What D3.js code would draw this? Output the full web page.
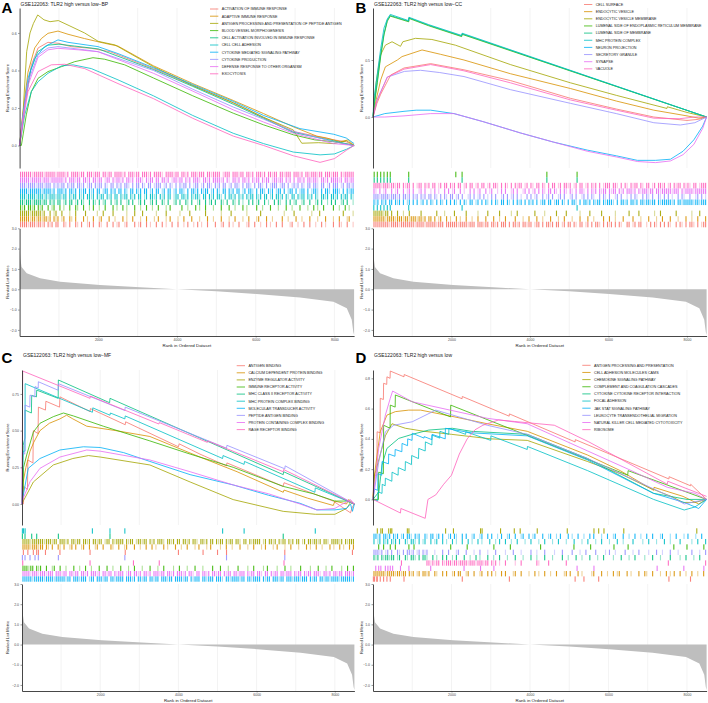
<!DOCTYPE html>
<html>
<head>
<meta charset="utf-8">
<script src="https://cdn.jsdelivr.net/npm/d3@7"></script>
<style>
body { margin: 0; background: #fff; }
svg { display: block; font-family: "Liberation Sans", Arial, sans-serif; }
</style>
</head>
<body>
<svg id="chart" width="708" height="703"></svg>
<script>
// ggplot hue palette for 10 gene sets
let colors = ["#F8766D", "#D89000", "#A3A500", "#39B600", "#00BF7D", "#00BFC4", "#00B0F6", "#9590FF", "#E76BF3", "#FF62BC"]

let rankMax = 8500
let xTicks = [2000, 4000, 6000, 8000]
let xGrid = [1000, 2000, 3000, 4000, 5000, 6000, 7000, 8000]
let metricTicks = [-2, -1, 0, 1, 2, 3]

// ranked list metric (same dataset in every panel)
let metricRank = [0, 20, 50, 180, 520, 1030, 2040, 3060, 4000, 5000, 6020, 7125, 7975, 8315, 8440, 8480, 8500]
let metricValue = [2.1, 1.5, 1.1, 0.79, 0.54, 0.37, 0.21, 0.1, 0, -0.1, -0.23, -0.41, -0.61, -0.94, -1.5, -2.1, -2.25]

// ---------- A: BP ----------
let namesA = ["ACTIVATION OF IMMUNE RESPONSE", "ADAPTIVE IMMUNE RESPONSE", "ANTIGEN PROCESSING AND PRESENTATION OF PEPTIDE ANTIGEN",
    "BLOOD VESSEL MORPHOGENESIS", "CELL ACTIVATION INVOLVED IN IMMUNE RESPONSE", "CELL CELL ADHESION",
    "CYTOKINE MEDIATED SIGNALING PATHWAY", "CYTOKINE PRODUCTION", "DEFENSE RESPONSE TO OTHER ORGANISM", "EXOCYTOSIS"]
let esA = [
    [[0,0],[130,0.22],[300,0.43],[470,0.52],[720,0.55],[980,0.545],[1310,0.527],[1820,0.518],[2300,0.5],[3400,0.41],[4400,0.32],[5430,0.227],[6200,0.15],[6950,0.075],[7980,0.03],[8300,0.02],[8500,0]],
    [[0,0],[100,0.2],[213,0.39],[383,0.52],[552,0.57],[722,0.598],[976,0.61],[1230,0.593],[1650,0.57],[2160,0.545],[2500,0.53],[3400,0.425],[4400,0.33],[5430,0.24],[6200,0.17],[6950,0.1],[7550,0.05],[7800,0.04],[8150,0.02],[8350,0.03],[8500,0]],
    [[0,0],[95,0.2],[180,0.5],[265,0.6],[350,0.65],[460,0.696],[620,0.67],[773,0.66],[985,0.666],[1280,0.637],[1650,0.6],[2000,0.555],[2425,0.536],[3400,0.42],[4400,0.32],[5430,0.228],[6200,0.15],[6955,0.083],[7170,0.012],[7600,0.015],[7980,0.01],[8310,0.025],[8500,0]],
    [[0,0],[45,0.0],[170,0.163],[298,0.287],[468,0.358],[722,0.394],[1060,0.42],[1400,0.447],[1865,0.468],[2160,0.46],[2670,0.43],[3400,0.36],[4400,0.265],[5430,0.172],[6200,0.11],[6955,0.057],[7500,0.03],[8000,0.02],[8500,0]],
    [[0,0],[120,0.2],[280,0.4],[460,0.5],[720,0.535],[1000,0.54],[1400,0.53],[2000,0.515],[3400,0.405],[4400,0.315],[5430,0.22],[6200,0.145],[6950,0.07],[7980,0.025],[8500,0]],
    [[0,0],[130,0.163],[298,0.287],[468,0.34],[722,0.385],[1060,0.424],[1360,0.43],[1822,0.41],[2500,0.35],[3400,0.265],[4400,0.16],[5430,0.065],[6200,0.01],[6955,-0.035],[7635,-0.05],[8000,-0.045],[8310,-0.02],[8500,0]],
    [[0,0],[86,0.16],[213,0.358],[383,0.465],[637,0.527],[976,0.563],[1230,0.55],[1992,0.527],[2500,0.49],[3400,0.415],[4400,0.325],[5430,0.235],[6200,0.16],[7125,0.09],[7980,0.06],[8300,0.04],[8500,0.01]],
    [[0,0],[100,0.18],[213,0.34],[468,0.483],[722,0.52],[976,0.527],[1654,0.51],[2000,0.5],[3400,0.4],[4400,0.3],[5430,0.205],[6200,0.14],[6955,0.075],[7980,0.02],[8500,0]],
    [[0,0],[100,0.17],[230,0.33],[468,0.47],[722,0.51],[976,0.518],[1500,0.51],[1992,0.5],[3400,0.385],[4400,0.29],[5430,0.19],[6200,0.125],[6955,0.065],[7980,0.01],[8500,0]],
    [[0,0],[86,0.127],[213,0.287],[468,0.394],[806,0.43],[1145,0.433],[1654,0.41],[2500,0.33],[3400,0.25],[4400,0.145],[5430,0.05],[6200,0.0],[6955,-0.055],[7635,-0.09],[8000,-0.07],[8310,-0.025],[8500,0]]
]
// hits: strings are 50-rank bins ('|' hit, ':' faint hit, '.' none), arrays are ranks
let hitsA = [
    "||||:|||:| |:|.|:|.|| ..|:.|..|: .|..:|.|.. |:..|..|.: |..:|...|. :|..|.:..| ..|.:..|.. |..:.|..:. |.:..|...| ..:|..|.:. .|...:|..| ..:..|.:.. |..|...:|. .:..|..|.. :..|.:...| ..|:..|..:",
    "|||||:||:| |:||:|.|:| .:|..|:.|. ..|.:..|.. :|...|..:. ..|.:..|.. .:..|...:. |...:.|... :..|...|.. .:...|..:. ..|...:..| ...:..|... :|...|..:. ...|..:... |..:...|.. .:...|...: ..|...:|..",
    "|||||:|||| |:|..|.:|. .|...:..|. ...|.....: ..|....|.. ....:...|. ..|......: ....|..... .:....|... ....|..... ..:....|.. .....:.... ..|....... ....:....| ........:. ..|....... ....|....:",
    "|:|.||:|.| :|..|.:|.. |.:..|..|: ..|..:.|.. :..|...|.: ..|.:...|. .:..|..:.. |...:.|... ..|..:...| .:..|...:. ..|...|..: ...|.:.... |..:...|.. .:...|..:. ..|...:..| .:..|....| ..:..|.:..",
    "||:|||:||| |:||.|:|.| |.:|.||.:| .|:..|.|:. |.:|..|.:| .|..:|.|.. :|.|..:|.| ..|:.|..:| .|..|:.|.. :|..|.:|.| ..|:.|..|: .|.:..|.|. :|..|.:..| .|:..|.|.: |..:|..|.. :|.|..:.|. |..:|.|..:",
    "|||:||||:| ||:|:|||:| |:||.|:||. |:|.||:|.| :||.|:|.|| .|:||.|:|. ||.:|.||:| .|:|.||.:| |.||:|.|:| |:.||.|:|. ||:.|.||:| .|:|.|:||. |:|.||.:|. ||:|.|:.|| .|:||.|:|. |:.||:|.|| :|.|:||.|:",
    "||||:||||| |:||||:|.| ||:|.||:|. |:||.|:|.| |.:||.|:|. ||.|:.||.| :|.||.:|.| |.:|.||.:| .||:.|.||: |.|:||.:|. |:.||.|:|. ||.:|.||:. |.||:.|:|. :||.|.:||. |.:||.|.:| |:.|.||:.| ||:.|.|:||",
    "|||:||||:| ||:|||.|:| :||.|:||.| |:|.:||.|: ||.|:.||.| :|.||:.|.| |.|:.||.:| ||.:|.|:.| .|:||.|.:| |.:|.||:.| :|.||.:|.| |:.|.||:.| .||:.|.:|| |.:||.|.:| :|.|:.||.| |:.||.:|.| ||.:|.||:|",
    "|||||:|||| |:|||:|||| ||:|.|||:| |.||:|.||: ||.:||.|:| |:|.||:|.| ||:.|:||.| |.||:|.:|| :||.|:|.|| |:.||:|.|| ||:|.|:.|| :|.||:|.|: ||.|:||.:| |:||.|:|.| .||:|.||:| |:.||:|.|| ||:|.||:||",
    "||||||:||| ||:|||||:| |||:|.|||| :||.|||:|| |.||:||.|| ||:|.|||:| |.|||:|.|| ||:.||||:| |.||:|.||| :|||.||:|| ||.:|||.|| |:||.||:|. |||:|.||:| |.||:|||.| ||:|.||:|| |:||.|||:| ||.|:|||||"
]
let rowsA = [9, 8, 7, 6, 5, 4, 3, 2, 1, 0]

// ---------- B: CC ----------
let namesB = ["CELL SURFACE", "ENDOCYTIC VESICLE", "ENDOCYTIC VESICLE MEMBRANE", "LUMENAL SIDE OF ENDOPLASMIC RETICULUM MEMBRANE",
    "LUMENAL SIDE OF MEMBRANE", "MHC PROTEIN COMPLEX", "NEURON PROJECTION", "SECRETORY GRANULE", "SYNAPSE", "VACUOLE"]
let esB = [
    [[0,0],[100,0.12],[196,0.2],[450,0.368],[790,0.43],[1470,0.468],[2318,0.414],[3500,0.32],[5030,0.164],[6200,0.07],[7155,0.0],[8000,-0.03],[8300,-0.02],[8500,0]],
    [[0,0],[80,0.15],[196,0.325],[315,0.44],[620,0.5],[740,0.53],[1250,0.588],[1720,0.55],[2318,0.5],[3500,0.38],[5030,0.25],[6200,0.14],[7155,0.06],[8000,0.01],[8300,-0.01],[8500,0]],
    [[0,0],[80,0.3],[186,0.54],[315,0.63],[485,0.66],[700,0.62],[760,0.66],[1080,0.69],[1500,0.68],[2100,0.63],[3500,0.46],[5030,0.3],[6200,0.19],[7490,0.075],[7500,0.09],[8000,0.04],[8500,0]],
    [[0,0],[30,0.1],[110,0.3],[196,0.53],[280,0.72],[365,0.84],[440,0.885],[910,0.835],[915,0.865],[1420,0.8],[2260,0.705],[2270,0.725],[8500,0]],
    [[0,0],[30,0.12],[110,0.32],[196,0.55],[280,0.73],[365,0.85],[440,0.89],[910,0.84],[915,0.87],[1420,0.805],[2260,0.71],[2270,0.73],[8500,0]],
    [[0,0],[20,0.15],[110,0.38],[196,0.6],[280,0.78],[365,0.86],[440,0.9],[910,0.845],[915,0.875],[1420,0.81],[2260,0.715],[2270,0.735],[8500,0]],
    [[0,0],[300,0.03],[790,0.05],[1100,0.06],[1470,0.06],[2065,0.03],[2800,-0.04],[3760,-0.14],[4600,-0.22],[5460,-0.29],[6200,-0.34],[6735,-0.38],[7200,-0.38],[7580,-0.37],[7900,-0.3],[8175,-0.2],[8400,-0.08],[8500,0]],
    [[0,0],[100,0.15],[365,0.35],[800,0.4],[1210,0.41],[1700,0.39],[2318,0.355],[3500,0.24],[5030,0.12],[6200,0.03],[7155,-0.05],[7830,-0.07],[8200,-0.05],[8500,0]],
    [[0,0],[300,0.0],[790,0.01],[1470,0.03],[2065,0.03],[2800,-0.04],[3760,-0.14],[4600,-0.22],[5460,-0.3],[6200,-0.35],[6735,-0.39],[7200,-0.4],[7580,-0.385],[7900,-0.33],[8175,-0.24],[8400,-0.1],[8500,0]],
    [[0,0],[100,0.14],[365,0.35],[790,0.42],[1470,0.46],[2318,0.405],[3500,0.3],[5030,0.15],[6200,0.06],[7155,-0.01],[7800,-0.015],[8200,0],[8500,0]]
]
let hitsB = [
    "||||||||:| |||:|||||| |:||||:||| ||:|||.||| |||:||||:| ||.|||:||. ||:|.|||.| .||:|.||:| |.:||.|.|| :|.||.:|.| |.|:.||.:| .|.||:.|.| :|.|.|:..| |.:|.||..: .|.|:.|.|. |:..|.|:.| .||:.|.:||",
    "||||||:||| |:|||:||:| ||:||:|.|| .|.:|..|.: ..|.:..|.. :..|...|.. .|..:..|.. ..|...:..| ...|..:... |...:..|.. .:...|...| ..:....|.. |..:...|.. ..|...:... |...:..|.. .|...:...| ..:..|...|",
    "|||||:||.| ..|..:..|. ....|..... ..|...:... .|.....|.. ...:....|. ....|..... :..|...... ..|....:.. ...|....|. .....:.... |.....|... ...:...... |....|.... ...:..|... ....|..... ..:...|...",
    [30, 110, 196, 280, 365, 440, 910, 2110, 2270, 4430, 5200],
    [30, 110, 196, 280, 365, 440, 910, 2270, 4430, 5200],
    [20, 110, 196, 280, 365, 440, 910, 2270, 5200],
    "|:|.|:|.|| .|:|.|.:|. |.|.:|.|.| :.|.|:.|.| .|:.|.|:.| |.:|.|.|:. |.|:.||.|: .|.|:|.|.| :|.|.:||.| |.:||.|:.| .||:.|.||: |.|:||.|:| ||:.|.||:| .||:|.||:| |:||.|:||| ||:|.||:|| |||:||:|||",
    "|||:||||:| ||:|.||:|. |:|.|:|.|| .|:.|.|:.| |.:|.|..:| .|.:|.|.:. |.|..:|.|. :|.|.:..|. |.:|..|.:| .|..:|.|.. :|.|..:|.| .|:..|.|:. |..:|.|..: .|.|:..|.| :.|..|:.|. |.:..|.|:. .|..:|.|.:",
    "|:.|.:|..| .:|..|.:|. |..:|.|..: .|.:..|.|. :|..|.:..| .|.:|..|.: |..:.|.|.. :|.|..:|.| .:|.|.|:.| |.|:.|.|:. |:.|.||:.| .|:|.|:||. |:||.|:|.| ||:|.|:||| :||.||:||| ||:|||.|:| |||:||||||",
    "||||:|||:| |:||.|:||. |.:||.|:|. ||.:|.||.| :|.||.:|.| |.:|.||.:| .||:.|.|:. |.|:||.:|. |:.||.|:.| .||.:|.||: |.:|.||.:| .|:|.|.:|| |.||:.|.|: .|:||.|:.| |.:|.||:|. :|.|:||.|: |:.||.:|||"
]
let rowsB = [3, 4, 9, 8, 7, 6, 5, 2, 1, 0]

// ---------- C: MF ----------
let namesC = ["ANTIGEN BINDING", "CALCIUM DEPENDENT PROTEIN BINDING", "ENZYME REGULATOR ACTIVITY", "IMMUNE RECEPTOR ACTIVITY",
    "MHC CLASS II RECEPTOR ACTIVITY", "MHC PROTEIN COMPLEX BINDING", "MOLECULAR TRANSDUCER ACTIVITY", "PEPTIDE ANTIGEN BINDING",
    "PROTEIN CONTAINING COMPLEX BINDING", "RAGE RECEPTOR BINDING"]
let esC = [
    [[0,0],[35,0.0],[40,0.12],[140,0.1],[150,0.3],[280,0.28],[290,0.5],[410,0.48],[420,0.66],[600,0.64],[610,0.7],[960,0.66],[970,0.73],[1740,0.63],[1750,0.65],[2640,0.54],[2650,0.56],[4000,0.39],[4020,0.41],[4550,0.34],[5230,0.26],[5240,0.28],[6680,0.12],[6700,0.145],[7960,0.02],[8400,-0.06],[8450,-0.02],[8500,0]],
    [[0,0],[30,0.15],[100,0.25],[205,0.36],[300,0.42],[460,0.5],[700,0.55],[970,0.58],[1140,0.605],[1300,0.58],[1655,0.53],[2400,0.5],[3270,0.46],[4550,0.32],[5500,0.22],[6680,0.08],[6700,0.095],[7300,0.04],[7960,-0.01],[8000,0.02],[8300,0.0],[8350,0.03],[8500,0]],
    [[0,0],[33,0.02],[290,0.15],[800,0.266],[1300,0.31],[1700,0.33],[2000,0.32],[3270,0.266],[4300,0.15],[5400,0.03],[6680,-0.05],[7500,-0.07],[8000,-0.07],[8300,-0.03],[8400,0.01],[8500,0]],
    [[0,0],[30,0.1],[40,0.25],[120,0.334],[290,0.49],[460,0.55],[800,0.595],[1060,0.62],[1315,0.6],[2080,0.53],[3270,0.43],[4300,0.34],[5400,0.25],[6680,0.12],[7450,0.07],[8000,0.02],[8300,0.02],[8500,0]],
    [[0,0],[20,0.3],[30,0.4],[75,0.45],[77,0.64],[240,0.62],[248,0.74],[370,0.73],[376,0.776],[925,0.72],[930,0.845],[2240,0.69],[2250,0.72],[6680,0.2],[6690,0.22],[8500,0]],
    [[0,0],[30,0.36],[77,0.36],[80,0.82],[1800,0.625],[1810,0.655],[2250,0.605],[2260,0.62],[2630,0.58],[2640,0.6],[5130,0.31],[5140,0.33],[5680,0.27],[5690,0.29],[7490,0.08],[7500,0.11],[8500,0]],
    [[0,0],[33,0.06],[160,0.243],[460,0.31],[970,0.368],[1570,0.39],[2000,0.385],[2600,0.35],[3270,0.29],[4300,0.2],[5400,0.13],[6300,0.06],[7110,0.005],[7540,-0.04],[8000,-0.04],[8300,-0.03],[8400,0.0],[8450,-0.05],[8500,0]],
    [[0,0],[10,0.35],[70,0.34],[77,0.674],[200,0.66],[205,0.742],[330,0.73],[333,0.8],[415,0.79],[418,0.833],[925,0.775],[930,0.82],[2630,0.637],[2640,0.66],[5230,0.38],[5240,0.4],[6720,0.24],[6730,0.26],[8500,0]],
    [[0,0],[33,0.04],[205,0.152],[460,0.243],[970,0.32],[1655,0.368],[2000,0.36],[3270,0.3],[4300,0.22],[5400,0.13],[6300,0.07],[7110,0.0],[7540,-0.04],[8000,-0.03],[8200,0.0],[8400,0.03],[8500,0]],
    [[0,0],[18,0.906],[1740,0.72],[1750,0.735],[3500,0.545],[3510,0.555],[4740,0.42],[4750,0.43],[6680,0.22],[6690,0.235],[8500,0]]
]
let hitsC = [
    [35, 150, 290, 375, 420, 600, 970, 1740, 2640, 4000, 4630, 5000, 5230, 6720, 8450],
    "||||:|||:| |.|:.|..|: .|..:|.|.. :|..|..:|. .|...|:..| ..:|...|.. :..|..|.:. ..|.:...|. .:..|...:. |...:.|... .:..|..:.. .|...:..|. ..:.|...:. |...:..|.. .:...|.:.. |..:...|.: ..|.:..|.|",
    "||||:||||| |:|||:||.| ||:|.||:|| .||:|.||:| |.:||.|:|| ||.|:||.:| |:||.|:|.| ||:.||:|.| |.||:|.||: .||:|.||.| :||.|:||.| |:.||.|:|| ||.:|.||:| .|:||.|:|. ||.:|.||:| |:|.||:.|| ||:|.|:|||",
    "|||:||.|:| ..|..:|..| ..:...|..: ..|..:...| ...|..:... |...:..|.. .:...|...: ..|....:.. |...:...|. ..:....|.. .|...:.... |....:..|. ...:.|.... :...|..:.. ..|....:.. .|...:..|. ...:..|..|",
    [10, 77, 248, 376, 930, 2250, 6680],
    [10, 40, 80, 1800, 2250, 2630, 5130, 5680, 7500],
    "|||||:|||| |:||||:||| ||:||.|||: |||.:||.|| |:||.||:|| ||.|||:|.| |:||.||:|| .|||:||.|| ||:||.|:|| |.||:|||.| ||:.||:||| |:||.||:|| ||.|:||.|| |:||.|||:| ||:|||.|:| |.||:||:|| ||:|||||:|",
    [10, 77, 205, 333, 418, 930, 2630, 5230, 6720],
    "||||:|||:| ||:|||.||| :||.||:||. ||:|.|||:| .||:||.|:| ||.:||.||: |.||:|.||| :||.||:|.| ||:|.||:.| |.||:|.||: ||.|:||.|| :|||.|:||. ||:.||.|:| |.||:|||.| :||.|:||.| ||:.||:|.| |:||.|||:|",
    [18, 1740, 2850, 3510, 6700]
]
let rowsC = [5, 4, 2, 1, 0, 7, 9, 3, 8, 6]

// ---------- D: KEGG ----------
let namesD = ["ANTIGEN PROCESSING AND PRESENTATION", "CELL ADHESION MOLECULES CAMS", "CHEMOKINE SIGNALING PATHWAY",
    "COMPLEMENT AND COAGULATION CASCADES", "CYTOKINE CYTOKINE RECEPTOR INTERACTION", "FOCAL ADHESION", "JAK STAT SIGNALING PATHWAY",
    "LEUKOCYTE TRANSENDOTHELIAL MIGRATION", "NATURAL KILLER CELL MEDIATED CYTOTOXICITY", "RIBOSOME"]
let esD = [
    [[0,0],[20,0.16],[100,0.16],[105,0.447],[180,0.44],[185,0.668],[265,0.66],[270,0.767],[350,0.76],[355,0.81],[435,0.8],[440,0.848],[790,0.81],[795,0.825],[2270,0.665],[2275,0.68],[3470,0.55],[3475,0.565],[5150,0.38],[5155,0.395],[7540,0.135],[7545,0.15],[8090,0.09],[8095,0.1],[8500,0]],
    [[0,0],[30,0.15],[185,0.447],[355,0.557],[570,0.58],[910,0.59],[1215,0.59],[2065,0.546],[2910,0.5],[3930,0.45],[5470,0.293],[6300,0.19],[7150,0.06],[7160,0.08],[7900,0.02],[8300,-0.03],[8500,0]],
    [[0,0],[40,0.16],[315,0.42],[485,0.5],[825,0.47],[1300,0.45],[2000,0.43],[3000,0.4],[3930,0.39],[5470,0.25],[6300,0.17],[6990,0.083],[7300,0.05],[7600,0.02],[7900,-0.02],[8200,-0.02],[8500,0]],
    [[0,0],[140,0.0],[145,0.18],[265,0.17],[270,0.49],[435,0.47],[440,0.623],[565,0.61],[570,0.69],[1975,0.545],[1980,0.623],[6490,0.16],[6500,0.19],[8500,0]],
    [[0,0],[150,0.05],[230,0.227],[355,0.337],[655,0.403],[1000,0.43],[1420,0.458],[2020,0.47],[2500,0.45],[3930,0.43],[5470,0.27],[7150,0.04],[8000,0.0],[8500,0]],
    [[0,0],[120,-0.01],[125,0.05],[230,0.04],[235,0.1],[310,0.09],[315,0.14],[480,0.12],[485,0.18],[640,0.16],[645,0.21],[820,0.19],[825,0.25],[980,0.23],[985,0.29],[1160,0.27],[1165,0.337],[1330,0.32],[1335,0.38],[1500,0.36],[1505,0.425],[1700,0.405],[1705,0.45],[1930,0.43],[1935,0.47],[2360,0.43],[2365,0.447],[3000,0.39],[3005,0.42],[3930,0.33],[3935,0.35],[5470,0.19],[7150,0.0],[7930,-0.07],[8200,-0.05],[8500,0]],
    [[0,0],[30,0.07],[120,0.06],[125,0.17],[225,0.16],[230,0.25],[395,0.235],[400,0.3],[560,0.285],[565,0.33],[735,0.315],[740,0.37],[880,0.355],[885,0.4],[995,0.39],[1000,0.437],[1300,0.405],[1305,0.415],[1500,0.395],[1505,0.43],[1840,0.4],[1845,0.47],[2500,0.44],[3930,0.42],[5470,0.26],[7150,0.04],[7930,-0.02],[8300,-0.06],[8500,0]],
    [[0,0],[145,0.245],[315,0.447],[530,0.49],[1000,0.513],[1600,0.59],[2910,0.49],[3930,0.43],[5470,0.27],[7590,0.017],[7930,-0.03],[8300,-0.01],[8500,0]],
    [[0,0],[145,0.337],[315,0.557],[440,0.668],[500,0.716],[1000,0.645],[2910,0.536],[3930,0.5],[5470,0.32],[6500,0.2],[7500,0.08],[8200,0.04],[8500,0]],
    [[0,0],[700,-0.09],[710,-0.06],[1330,-0.125],[1400,0.0],[1600,0.03],[1800,0.1],[2000,0.16],[2200,0.3],[2400,0.4],[2600,0.46],[2800,0.49],[3200,0.525],[3600,0.515],[4620,0.49],[5500,0.38],[6500,0.24],[7500,0.1],[7510,0.12],[8500,0.02]]
]
let hitsD = [
    [10, 40, 100, 105, 185, 270, 355, 440, 790, 2275, 3475, 5150, 5375, 5750, 7540, 8090],
    "||||||:||| |:||:||.|: |.:|.||:|. .|:..|.|.. :|.||..:|. .|..:|..|. |.:..|.|.. .:|..|...: ..|.:..|.. :..|...:|. |...|.:... .:|...|..: ..|.:|...| .:...|..|: ..|...:..| .:.|..|..: ..|..:..|.",
    [110, 200, 240, 400, 450, 480, 875, 915, 1850, 2050, 2740, 2780, 3250, 3600, 3750, 4185, 4950, 5630, 5750, 5885, 6390, 8250],
    [145, 270, 440, 570, 915, 1045, 1980, 2400, 3080, 3500, 4270, 5120, 5545, 6140, 6500, 7665, 8000, 8430],
    "|:|.|:||:| |.:|..|:.| |:.|.||:.. |.:..|.|.. :.|...|..: ..|.:...|. .:..|...:. ..|...:... |..:...|.. .:....|..: ...|..:... |...:..|.. ..:...|... :..|....:. ..|...:... .|....:..| ...:..|...",
    "|.:|.|:|.| :|.|..|:.| |:.|.:|..| .:|..|.:.. |.:..|..|. :..|.:...| ..:.|..|.. :..|...:.. |...:..|.. .:..|...:. ..|...:..| ...:..|... :...|..:.. ..|....:.. |...:...|. .:....|... ..:..|...|",
    "||:|.||:|. |:|.:|.||: .|:|..|:.| |.:|.|..:| .|:..|.|.. :|..:|..|. |..:.|..:| ..|..:|..| .:|...|..: |..:.|...| .:..|..:.. |.|...:..| ..:|...|.. :..|..:..| ..|...:|.. .:..|...:. |...:..|..",
    "|||:|.:|.| ..|:.|.||: |.:|.|:|.. .:...|..|. ..:|...|.. .:..|...:. ..|....:.. .|...:.... |..:...|.. ..:...|... .|...:..|. ...|....:. |..:....|. ..:..|.... :...|..:.. .|...:.... ..|...:..|",
    [70, 145, 200, 315, 380, 440, 500, 700, 915, 1470, 2320, 2740, 3080, 5200, 5630, 7240, 7920, 8430],
    ".......... ....|..... .......||: |:||.|:||| :||:||||:| ||:|||:||. |:|.:..|.. ..:..|.... ...|:....| ........|. .......... .......... .......... .......... .......... |......... .........|"
]
let rowsD = [2, 6, 5, 3, 7, 4, 9, 8, 1, 0]

// ---------- layout of the four panels ----------
let panels = [
    { letter: "A", title: "GSE122063: TLR2 high versus low\u2212BP", names: namesA, es: esA, hits: hitsA, rows: rowsA,
      esDomain: [-0.12, 0.733], esTicks: [0, 0.2, 0.4, 0.6], esFmt: ".1f",
      ox: 0, x0: 19.6, x1: 354.1, esTop: 8, esBot: 168, rugTop: 171.7, rugBot: 227.3, rkTop: 228.3, rkBot: 336,
      titleY: 6, letterY: 12.7, legX: 210, legY: 9, legDy: 7.2 },
    { letter: "B", title: "GSE122063: TLR2 high versus low\u2212CC", names: namesB, es: esB, hits: hitsB, rows: rowsB,
      esDomain: [-0.447, 0.956], esTicks: [0, 0.5], esFmt: ".1f",
      ox: 354, x0: 373, x1: 706.6, esTop: 8, esBot: 168, rugTop: 171.7, rugBot: 227.3, rkTop: 228.3, rkBot: 336,
      titleY: 6, letterY: 12.7, legX: 584, legY: 4.5, legDy: 7.15 },
    { letter: "C", title: "GSE122063: TLR2 high versus low\u2212MF", names: namesC, es: esC, hits: hitsC, rows: rowsC,
      esDomain: [-0.143, 0.913], esTicks: [0, 0.25, 0.5, 0.75], esFmt: ".2f",
      ox: 0, x0: 22, x1: 354.4, esTop: 370, esBot: 525, rugTop: 528.3, rugBot: 581.7, rkTop: 584, rkBot: 691,
      titleY: 356.8, letterY: 362.7, legX: 236.7, legY: 365.7, legDy: 7.1 },
    { letter: "D", title: "GSE122063: TLR2 high versus low", names: namesD, es: esD, hits: hitsD, rows: rowsD,
      esDomain: [-0.169, 0.855], esTicks: [0, 0.2, 0.4, 0.6, 0.8], esFmt: ".1f",
      ox: 354, x0: 373, x1: 706.6, esTop: 370, esBot: 525, rugTop: 528.3, rugBot: 581.7, rkTop: 584, rkBot: 691,
      titleY: 356.8, letterY: 362.7, legX: 582.3, legY: 365.3, legDy: 7.15 }
]

let svg = d3.select("#chart")
let metric = d3.zip(metricRank, metricValue)

let toTicks = (h) => {
    if (Array.isArray(h)) return h.map(r => ({ rank: r, a: 0.9 }))
    let out = []
    h.replace(/ /g, "").split("").forEach((c, i) => {
        if (c === "|") out.push({ rank: i * 50 + 25, a: 0.9 })
        else if (c === ":") out.push({ rank: i * 50 + 25, a: 0.4 })
    })
    return out
}

let styleAxis = (g) => {
    g.attr("font-size", 3.5).attr("font-family", null)
    g.selectAll("text").attr("fill", "#4d4d4d")
    g.selectAll("line").attr("stroke", "#333").attr("stroke-width", 0.5)
    g.select(".domain").attr("stroke", "#333").attr("stroke-width", 0.9)
}

let drawPanel = (p) => {
    let g = svg.append("g")
    let x = d3.scaleLinear().domain([0, rankMax]).range([p.x0, p.x1])
    let y = d3.scaleLinear().domain(p.esDomain).range([p.esBot, p.esTop])
    let yr = d3.scaleLinear().domain([-2.3, 3]).range([p.rkBot, p.rkTop])

    // vertical grid lines
    let grid = (top, bot) => g.append("g").selectAll("line").data(xGrid).join("line")
        .attr("x1", d => x(d)).attr("x2", d => x(d))
        .attr("y1", top).attr("y2", bot)
        .attr("stroke", "#ebebeb").attr("stroke-width", 0.6)
    grid(p.esTop, p.esBot)
    grid(p.rkTop, p.rkBot)

    // running enrichment score
    let line = d3.line().x(d => x(d[0])).y(d => y(d[1]))
    p.es.forEach((c, i) => {
        g.append("path").attr("d", line(c))
            .attr("fill", "none").attr("stroke", colors[i]).attr("stroke-width", 0.8)
            .attr("stroke-linejoin", "round")
    })
    g.append("g").attr("transform", `translate(${p.x0},0)`)
        .call(d3.axisLeft(y).tickValues(p.esTicks).tickFormat(d3.format(p.esFmt)).tickSize(1.5).tickSizeOuter(0).tickPadding(1.5))
        .call(styleAxis)

    // hit rug
    let rowH = (p.rugBot - p.rugTop) / 10
    p.rows.forEach((setIdx, r) => {
        g.append("g").selectAll("rect").data(toTicks(p.hits[setIdx])).join("rect")
            .attr("x", d => x(d.rank) - 0.55).attr("width", 1.1)
            .attr("y", p.rugTop + r * rowH).attr("height", rowH)
            .attr("fill", colors[setIdx]).attr("opacity", d => d.a)
    })

    // ranked list metric
    let area = d3.area().x(d => x(d[0])).y0(yr(0)).y1(d => yr(d[1]))
    g.append("path").attr("d", area(metric)).attr("fill", "#bebebe")
    g.append("g").attr("transform", `translate(${p.x0},0)`)
        .call(d3.axisLeft(yr).tickValues(metricTicks).tickSize(1.5).tickSizeOuter(0).tickPadding(1.5))
        .call(styleAxis)
    g.append("g").attr("transform", `translate(0,${p.rkBot})`)
        .call(d3.axisBottom(x).tickValues(xTicks).tickFormat(d3.format("d")).tickSize(1.5).tickSizeOuter(0).tickPadding(1.2))
        .call(styleAxis)

    // axis titles
    g.append("text").attr("transform", `translate(${p.ox + 8.5},${(p.esTop + p.esBot) / 2}) rotate(-90)`)
        .attr("text-anchor", "middle").attr("font-size", 4).attr("fill", "#1a1a1a").text("Running Enrichment Score")
    g.append("text").attr("transform", `translate(${p.ox + 8.5},${(p.rkTop + p.rkBot) / 2}) rotate(-90)`)
        .attr("text-anchor", "middle").attr("font-size", 4).attr("fill", "#1a1a1a").text("Ranked List Metric")
    g.append("text").attr("x", (p.x0 + p.x1) / 2).attr("y", p.rkBot + 10.5)
        .attr("text-anchor", "middle").attr("font-size", 4.4).attr("fill", "#1a1a1a").text("Rank in Ordered Dataset")

    // title and panel letter
    g.append("text").attr("x", p.x0 + 1).attr("y", p.titleY)
        .attr("font-size", 5).attr("fill", "#1a1a1a").text(p.title)
    g.append("text").attr("x", p.ox + 1.5).attr("y", p.letterY)
        .attr("font-size", 15).attr("font-weight", "bold").attr("fill", "#000").text(p.letter)

    // legend
    let leg = g.append("g").selectAll("g").data(p.names).join("g")
        .attr("transform", (d, i) => `translate(${p.legX},${p.legY + i * p.legDy})`)
    leg.append("line").attr("x1", 0).attr("x2", 8.3).attr("y1", 0).attr("y2", 0)
        .attr("stroke", (d, i) => colors[i]).attr("stroke-width", 0.8)
    leg.append("text").attr("x", 11.7).attr("y", 1.3)
        .attr("font-size", 3.7).attr("fill", "#1a1a1a").text(d => d)
}

panels.forEach(drawPanel)
</script>
</body>
</html>
